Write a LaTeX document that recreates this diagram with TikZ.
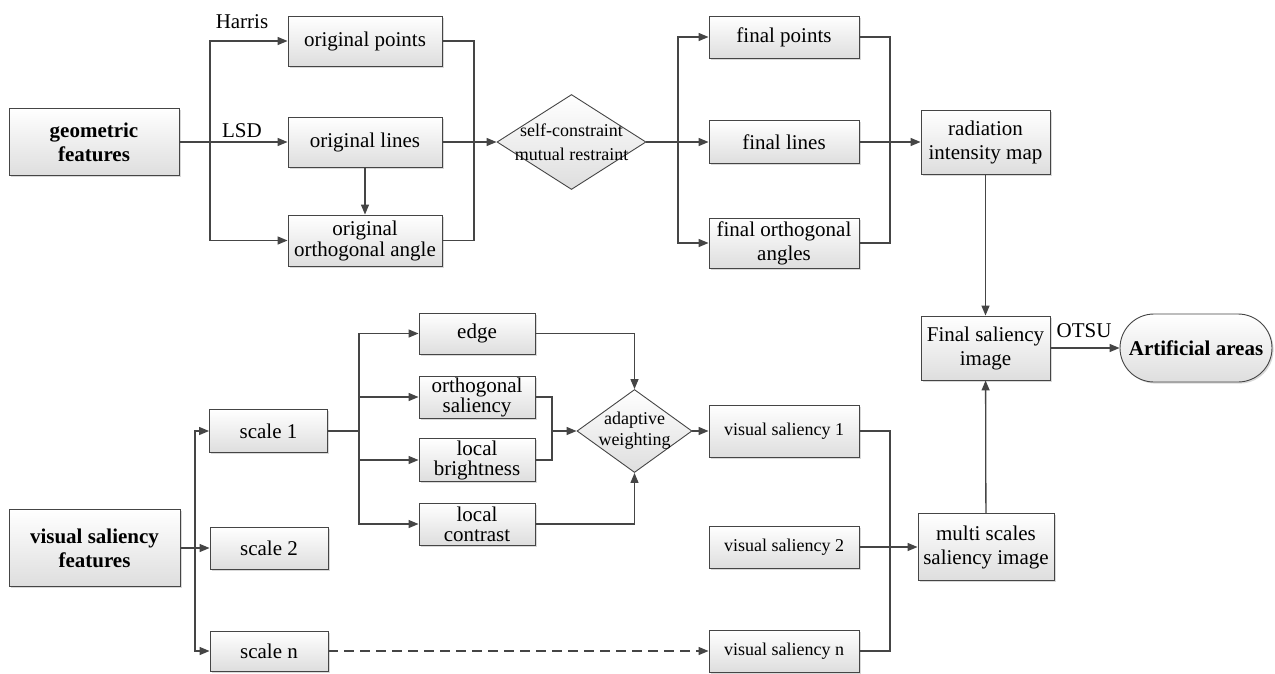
\documentclass[tikz,border=0pt]{standalone}
\usepackage{fontspec}
\setmainfont{LiberationSerif}[Extension=.ttf, UprightFont=*-Regular, BoldFont=*-Bold, ItalicFont=*-Italic, BoldItalicFont=*-BoldItalic]
\usetikzlibrary{shapes.geometric, shapes.misc, arrows.meta, shadows, positioning}
\definecolor{linegray}{HTML}{454545}

\tikzset{
  basefont/.style={font=\rmfamily\fontsize{21}{24}\selectfont},
  smalltxt/.style={font=\rmfamily\fontsize{18}{22}\selectfont},
  boldtxt/.style={font=\rmfamily\fontsize{21}{24}\selectfont\bfseries},
  tightbox/.style={font=\rmfamily\fontsize{21}{20}\selectfont},
  box/.style={rectangle, draw=linegray, line width=0.9pt, top color=white, bottom color=black!13,
    drop shadow={shadow xshift=1.6pt, shadow yshift=-1.6pt, opacity=0.3},
    align=center, inner sep=1pt, basefont},
  dia/.style={diamond, draw=linegray, line width=0.9pt, top color=white, bottom color=black!13,
    inner sep=0pt},
  diatxt/.style={align=center, inner sep=0pt, smalltxt},
  term/.style={box, rounded rectangle},
  lbl/.style={inner sep=0pt, basefont},
  conn/.style={line width=1.3pt, draw=linegray},
  arr/.style={conn, -{Triangle[length=10pt,width=8pt]}}
}

\begin{document}
\begin{tikzpicture}[x=1pt, y=-1pt]
    \useasboundingbox (0,0) rectangle (1275,673);
    %geometric features
    \node[box, boldtxt, minimum width=170pt, minimum height=67pt] (geo) at (94,142) {geometric\\features};
    \node[box, minimum width=154pt, minimum height=50pt] (op) at (365,41) {original points};
    \node[box, minimum width=154pt, minimum height=50pt] (ol) at (365,142) {original lines};
    \node[box, font=\rmfamily\fontsize{21}{21}\selectfont, minimum width=154pt, minimum height=51pt] (oa) at (365,240.5) {original\\orthogonal angle};
    \node[lbl] (harris) at (242,22) {Harris};
    \node[lbl] (lsd) at (242,131) {LSD};
    \node[dia, minimum width=149pt, minimum height=95pt,
      label={[diatxt, font=\rmfamily\fontsize{18}{24}\selectfont]center:self-constraint\\mutual restraint}] (d1) at (571.5,142) {};
    \node[box, minimum width=150pt, minimum height=42pt] (fp) at (784,37) {final points};
    \node[box, minimum width=150pt, minimum height=43pt] (fl) at (784,142) {final lines};
    \node[box, minimum width=150pt, minimum height=50pt] (fo) at (784,243) {final orthogonal\\angles};
    \node[box, minimum width=129pt, minimum height=64pt] (rim) at (985.5,142) {radiation\\intensity map};
    %final result
    \node[box, minimum width=129pt, minimum height=64pt] (fsi) at (985.5,348) {Final saliency\\image};
    \node[term, boldtxt, minimum width=154pt, minimum height=68pt] (aa) at (1196,348) {Artificial areas};
    \node[lbl] (otsu) at (1084,331) {OTSU};
    %visual saliency features
    \node[box, boldtxt, minimum width=171pt, minimum height=77pt] (vsf) at (94.5,548) {visual saliency\\features};
    \node[box, minimum width=118pt, minimum height=43pt] (sc1) at (268.5,431) {scale 1};
    \node[box, minimum width=118pt, minimum height=42pt] (sc2) at (269,548) {scale 2};
    \node[box, minimum width=118pt, minimum height=40pt] (scn) at (269,651) {scale n};
    \node[box, minimum width=116pt, minimum height=41pt] (edge) at (477,333.5) {edge};
    \node[box, tightbox, minimum width=116pt, minimum height=42pt] (os) at (477,397) {orthogonal\\saliency};
    \node[box, tightbox, minimum width=116pt, minimum height=43pt] (lb) at (477,460) {local\\brightness};
    \node[box, tightbox, minimum width=116pt, minimum height=42pt] (lc) at (477,524) {local\\contrast};
    \node[dia, minimum width=115pt, minimum height=83pt,
      label={[diatxt, font=\rmfamily\fontsize{18}{21}\selectfont]center:adaptive\\weighting}] (aw) at (634.5,431) {};
    \node[box, smalltxt, minimum width=150pt, minimum height=52pt] (vs1) at (784,431) {visual saliency 1};
    \node[box, smalltxt, minimum width=150pt, minimum height=42pt] (vs2) at (784,547) {visual saliency 2};
    \node[box, smalltxt, minimum width=150pt, minimum height=42pt] (vsn) at (784,651) {visual saliency n};
    \node[box, minimum width=136pt, minimum height=67pt] (msi) at (986,547) {multi scales\\saliency image};

    %connectors geometric
    \coordinate (s1) at (210,142);
    \draw[conn] (geo) -- (s1);
    \draw[arr] (s1) |- (op);
    \draw[arr] (s1) -- (ol);
    \draw[arr] (s1) |- (oa);
    \draw[arr] (ol) -- (oa);
    \coordinate (m1) at (474,142);
    \draw[conn] (op) -| (m1);
    \draw[conn] (oa) -| (m1);
    \draw[arr] (ol) -- (d1);
    \coordinate (s2) at (678,142);
    \draw[arr] (d1) -- (fl);
    \draw[arr] (s2) |- (fp);
    \draw[arr] (s2) |- (fo);
    \coordinate (m2) at (890,142);
    \draw[conn] (fp) -| (m2);
    \draw[conn] (fo) -| (m2);
    \draw[arr] (fl) -- (rim);
    \draw[arr] (rim) -- (fsi);
    \draw[arr] (fsi) -- (aa);
    \draw[arr] (msi) -- (fsi);

    %connectors visual
    \coordinate (s3) at (195,548);
    \draw[arr] (vsf) -- (sc2);
    \draw[arr] (s3) |- (sc1);
    \draw[arr] (s3) |- (scn);
    \coordinate (s4) at (359,431);
    \draw[conn] (sc1) -- (s4);
    \draw[arr] (s4) |- (edge);
    \draw[arr] (s4) |- (os);
    \draw[arr] (s4) |- (lb);
    \draw[arr] (s4) |- (lc);
    \draw[arr] (edge) -| (aw);
    \coordinate (m3) at (552,431);
    \draw[conn] (os) -| (m3);
    \draw[conn] (lb) -| (m3);
    \draw[arr] (m3) -- (aw);
    \draw[arr] (lc) -| (aw);
    \draw[arr] (aw) -- (vs1);
    \draw[arr, dash pattern=on 10pt off 6pt] (scn) -- (vsn);
    \coordinate (m4) at (890,547);
    \draw[conn] (vs1) -| (m4);
    \draw[conn] (vsn) -| (m4);
    \draw[arr] (vs2) -- (msi);
\end{tikzpicture}
\end{document}
